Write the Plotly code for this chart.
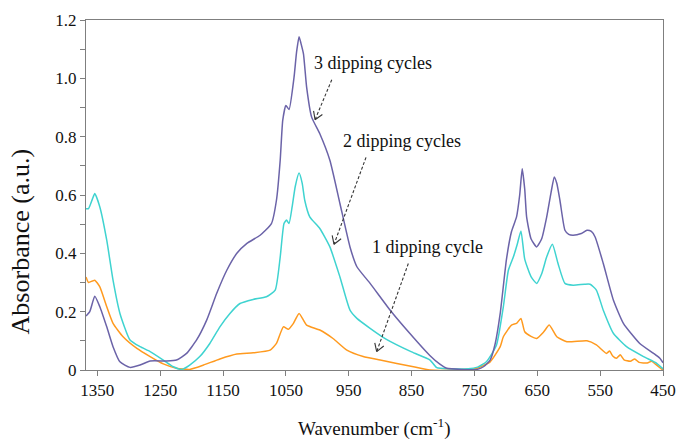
import math
import plotly.graph_objects as go

# ---- FTIR absorbance spectra (wavenumber in cm-1, absorbance in a.u.) ----
wn_3 = [1368, 1362, 1354, 1346, 1335, 1325, 1314, 1298, 1282, 1266, 1240, 1224, 1208, 1192,
        1176, 1160, 1144, 1128, 1112, 1091, 1073, 1065, 1059, 1055, 1050, 1045, 1037, 1033,
        1029, 1026, 1022, 1017, 1009, 996, 980, 964, 948, 937, 916, 884, 853, 821, 805, 794,
        770, 746, 735, 725, 717, 709, 699, 691, 683, 678, 674, 670, 667, 660, 651, 643, 635,
        628, 623, 619, 614, 606, 600, 593, 580, 571, 564, 558, 545, 529, 513, 487, 465, 455, 450]
abs_3 = [0.185, 0.200, 0.253, 0.217, 0.148, 0.080, 0.028, 0.009, 0.017, 0.031, 0.031, 0.034, 0.057,
         0.103, 0.171, 0.263, 0.342, 0.400, 0.434, 0.462, 0.502, 0.582, 0.720, 0.856, 0.907, 0.893,
         1.004, 1.090, 1.143, 1.120, 1.084, 0.970, 0.867, 0.810, 0.719, 0.571, 0.422, 0.354, 0.297,
         0.205, 0.126, 0.050, 0.020, 0.006, 0.002, 0.002, 0.012, 0.034, 0.090, 0.194, 0.380, 0.475,
         0.525, 0.600, 0.690, 0.620, 0.525, 0.450, 0.422, 0.450, 0.525, 0.610, 0.662, 0.640, 0.582,
         0.479, 0.465, 0.462, 0.468, 0.479, 0.475, 0.456, 0.365, 0.240, 0.160, 0.091, 0.057, 0.040,
         0.025]

wn_2 = [1368, 1364, 1358, 1354, 1346, 1335, 1325, 1314, 1298, 1282, 1266, 1245, 1229, 1216, 1203,
        1187, 1171, 1155, 1139, 1123, 1102, 1081, 1067, 1059, 1053, 1049, 1045, 1040, 1035, 1029,
        1024, 1020, 1012, 996, 980, 964, 948, 937, 916, 890, 850, 821, 810, 790, 760, 745, 731,
        715, 704, 696, 688, 682, 676, 670, 660, 651, 643, 635, 626, 617, 606, 593, 575, 566, 556,
        545, 529, 508, 481, 460, 450]
abs_2 = [0.553, 0.553, 0.585, 0.605, 0.559, 0.445, 0.308, 0.194, 0.103, 0.080, 0.063, 0.034, 0.011,
         0.002, 0.017, 0.046, 0.091, 0.148, 0.194, 0.228, 0.242, 0.251, 0.274, 0.388, 0.502, 0.514,
         0.502, 0.560, 0.630, 0.675, 0.640, 0.582, 0.525, 0.485, 0.422, 0.319, 0.205, 0.177, 0.143,
         0.105, 0.062, 0.035, 0.008, 0.004, 0.004, 0.010, 0.028, 0.085, 0.217, 0.342, 0.388, 0.430,
         0.477, 0.380, 0.320, 0.297, 0.330, 0.388, 0.431, 0.365, 0.297, 0.291, 0.294, 0.294, 0.274,
         0.205, 0.126, 0.080, 0.046, 0.023, 0.004]

wn_1 = [1368, 1364, 1358, 1354, 1346, 1335, 1325, 1309, 1287, 1266, 1245, 1224, 1203, 1181, 1155,
        1128, 1102, 1075, 1065, 1054, 1046, 1038, 1029, 1017, 996, 975, 953, 927, 900, 847, 821,
        780, 746, 725, 709, 704, 691, 683, 676, 670, 660, 651, 640, 631, 619, 603, 571, 556, 540,
        535, 530, 524, 518, 512, 502, 495, 488, 475, 468, 462, 454, 450]
abs_1 = [0.319, 0.300, 0.305, 0.308, 0.285, 0.217, 0.160, 0.114, 0.074, 0.046, 0.021, 0.006, 0.002,
         0.017, 0.038, 0.055, 0.059, 0.068, 0.091, 0.148, 0.140, 0.160, 0.194, 0.154, 0.137, 0.108,
         0.068, 0.046, 0.034, 0.011, 0.000, 0.000, 0.006, 0.028, 0.080, 0.114, 0.154, 0.160, 0.177,
         0.131, 0.115, 0.108, 0.130, 0.154, 0.114, 0.097, 0.100, 0.086, 0.057, 0.065, 0.048, 0.040,
         0.052, 0.035, 0.030, 0.038, 0.026, 0.024, 0.030, 0.020, 0.006, 0.000]

y_ticks = [0, 0.2, 0.4, 0.6, 0.8, 1.0, 1.2]
y_tick_text = ["0", "0.2", "0.4", "0.6", "0.8", "1.0", "1.2"]
x_ticks = [1350, 1250, 1150, 1050, 950, 850, 750, 650, 550, 450]

# Labels: (text, label position, arrow tail, arrow tip) in data coordinates
labels = [
    ("3 dipping cycles", (911, 1.051), (977, 0.995), (1003.6, 0.858)),
    ("2 dipping cycles", (866, 0.784), (922.5, 0.729), (973.4, 0.431)),
    ("1 dipping cycle", (825, 0.421), (855.2, 0.365), (905.5, 0.063)),
]

COL_3 = "#6b63a8"
COL_2 = "#3fd3d0"
COL_1 = "#ff9a1f"
SERIF = "Liberation Serif"

W, H = 679, 442
M = dict(l=86, r=16, t=20, b=72)
X_MAX, X_MIN = 1368, 450
Y_MIN, Y_MAX = 0, 1.2

fig = go.Figure()
for wn, ab, col in [(wn_1, abs_1, COL_1), (wn_2, abs_2, COL_2), (wn_3, abs_3, COL_3)]:
    fig.add_trace(go.Scatter(x=wn, y=ab, mode="lines",
                             line=dict(color=col, width=1.5, shape="spline", smoothing=0.5),
                             showlegend=False, hoverinfo="skip"))

# pixel scale of the plotting area, used to build the open arrowheads
sx = (W - M["l"] - M["r"]) / (X_MAX - X_MIN)
sy = (H - M["t"] - M["b"]) / (Y_MAX - Y_MIN)

def to_px(w, a):
    return (X_MAX - w) * sx, (a - Y_MIN) * sy

def to_data(px, py):
    return X_MAX - px / sx, Y_MIN + py / sy

shapes = []
annotations = []
for text, pos, tail, tip in labels:
    annotations.append(dict(x=pos[0], y=pos[1], xref="x", yref="y", text=text,
                            showarrow=False, xanchor="center", yanchor="middle",
                            font=dict(family=SERIF, size=18, color="#111111")))
    shapes.append(dict(type="line", xref="x", yref="y",
                       x0=tail[0], y0=tail[1], x1=tip[0], y1=tip[1],
                       line=dict(color="#333333", width=1.1, dash="3px,2px")))
    tx, ty = to_px(*tail)
    hx, hy = to_px(*tip)
    dx, dy = tx - hx, ty - hy
    n = math.hypot(dx, dy)
    ux, uy = dx / n, dy / n
    for ang in (math.radians(32), -math.radians(32)):
        rx = ux * math.cos(ang) - uy * math.sin(ang)
        ry = ux * math.sin(ang) + uy * math.cos(ang)
        ex, ey = to_data(hx + 9 * rx, hy + 9 * ry)
        shapes.append(dict(type="line", xref="x", yref="y",
                           x0=tip[0], y0=tip[1], x1=ex, y1=ey,
                           line=dict(color="#333333", width=1.1)))

# axis titles
annotations.append(dict(x=0.5, y=-0.163, xref="paper", yref="paper",
                        text="Wavenumber (cm<sup>-1</sup>)", showarrow=False,
                        xanchor="center", yanchor="middle",
                        font=dict(family=SERIF, size=19, color="#111111")))
annotations.append(dict(x=-0.114, y=0.368, xref="paper", yref="paper",
                        text="Absorbance (a.u.)", showarrow=False, textangle=-90,
                        xanchor="center", yanchor="middle",
                        font=dict(family=SERIF, size=26, color="#111111")))

axis_common = dict(showgrid=False, zeroline=False, showline=True, linecolor="#7f7f7f",
                   linewidth=1, mirror=True, ticks="outside", ticklen=5,
                   tickcolor="#7f7f7f", tickwidth=1, automargin=False,
                   tickfont=dict(family=SERIF, size=17, color="#111111"))

fig.update_layout(
    width=W, height=H, margin=dict(**M, pad=0, autoexpand=False),
    paper_bgcolor="white", plot_bgcolor="white",
    xaxis=dict(range=[X_MAX, X_MIN], tickvals=x_ticks, ticktext=[str(v) for v in x_ticks],
               **axis_common),
    yaxis=dict(range=[Y_MIN, Y_MAX], tickvals=y_ticks, ticktext=y_tick_text,
               minor=dict(dtick=0.1, ticks="outside", ticklen=5, tickcolor="#7f7f7f"),
               **axis_common),
    shapes=shapes,
    annotations=annotations,
)

fig.write_html("out.html")
